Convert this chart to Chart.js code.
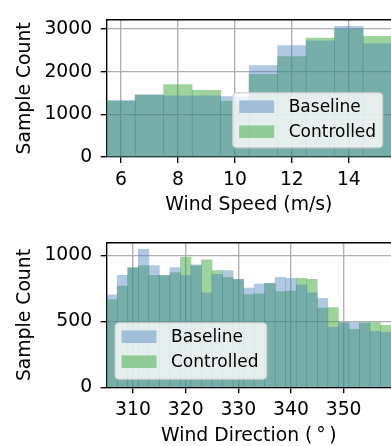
<!DOCTYPE html>
<html>
<head>
<meta charset="utf-8">
<script src="https://cdn.jsdelivr.net/npm/chart.js@4.4.0/dist/chart.umd.min.js"></script>
<style>
  html, body { margin: 0; padding: 0; background: #fff; overflow: hidden; }
  .panel { position: absolute; left: 0; width: 391px; }
  #speed-panel { top: 0; height: 223px; }
  #dir-panel { top: 223px; height: 225px; }
</style>
</head>
<body>
<div class="panel" id="speed-panel"><canvas id="speedChart" width="391" height="223"></canvas></div>
<div class="panel" id="dir-panel"><canvas id="dirChart" width="391" height="225"></canvas></div>
<script>
// Wind speed histogram (bin centres, 1 m/s wide)
const speedBins = [6, 7, 8, 9, 10, 11, 12, 13, 14, 15];
const speedBaseline = [1330, 1455, 1436, 1436, 1414, 2143, 2614, 2721, 3064, 2657];
const speedControlled = [1307, 1450, 1700, 1564, 1310, 1936, 2357, 2786, 2993, 2829];
const speedTicks = [6, 8, 10, 12, 14];
const speedCountTicks = [0, 1000, 2000, 3000];

// Wind direction histogram (bin centres, 2 deg wide)
const dirBins = [306, 308, 310, 312, 314, 316, 318, 320, 322, 324, 326, 328, 330, 332,
  334, 336, 338, 340, 342, 344, 346, 348, 350, 352, 354, 356, 358];
const dirBaseline = [702, 849, 905, 1048, 923, 850, 908, 849, 930, 717, 857, 886, 820, 754,
  783, 790, 835, 827, 778, 717, 675, 455, 492, 492, 490, 425, 418];
const dirControlled = [665, 768, 908, 923, 849, 848, 871, 989, 922, 967, 886, 835, 818, 703,
  710, 788, 726, 731, 827, 820, 601, 606, 490, 440, 490, 491, 470];
const dirTicks = [310, 320, 330, 340, 350];
const dirCountTicks = [0, 500, 1000];

const seriesNames = ['Baseline', 'Controlled'];
const baselineColor = 'rgba(70, 125, 185, 0.42)';
const controlledColor = 'rgba(44, 160, 44, 0.46)';

Chart.defaults.font.family = '"DejaVu Sans"';
Chart.defaults.font.size = 18.8;
Chart.defaults.color = '#000';

// Top spine + matplotlib style legend drawn inside the axes
const frameAndLegend = {
  id: 'frameAndLegend',
  afterDraw(chart, args, opts) {
    const { ctx, chartArea } = chart;
    ctx.save();
    ctx.strokeStyle = '#000';
    ctx.lineWidth = 1.36;
    ctx.beginPath();
    ctx.moveTo(chartArea.left - 0.68, chartArea.top);
    ctx.lineTo(chartArea.right, chartArea.top);
    ctx.stroke();

    const b = opts.box;
    ctx.fillStyle = 'rgba(255, 255, 255, 0.8)';
    ctx.strokeStyle = 'rgba(204, 204, 204, 0.8)';
    ctx.lineWidth = 1.36;
    ctx.beginPath();
    ctx.roundRect(b.x, b.y, b.w, b.h, 4);
    ctx.fill();
    ctx.stroke();

    ctx.font = '17px "DejaVu Sans"';
    ctx.textBaseline = 'middle';
    ctx.textAlign = 'left';
    chart.data.datasets.forEach((ds, i) => {
      const cy = b.y + 14 + i * 25;
      ctx.fillStyle = ds.backgroundColor;
      ctx.fillRect(b.x + 6.5, cy - 6.3, 35, 12.6);
      ctx.fillStyle = '#000';
      ctx.fillText(ds.label, b.x + 56, cy + 1);
    });
    ctx.restore();
  }
};

function makeHist(canvasId, cfg) {
  const ctx = document.getElementById(canvasId).getContext('2d');
  return new Chart(ctx, {
    type: 'bar',
    data: {
      datasets: [
        {
          label: seriesNames[0],
          data: cfg.bins.map((x, i) => ({ x: x, y: cfg.baseline[i] })),
          backgroundColor: baselineColor,
          borderWidth: 0,
          grouped: false,
          barPercentage: 1,
          categoryPercentage: 1
        },
        {
          label: seriesNames[1],
          data: cfg.bins.map((x, i) => ({ x: x, y: cfg.controlled[i] })),
          backgroundColor: controlledColor,
          borderWidth: 0,
          grouped: false,
          barPercentage: 1,
          categoryPercentage: 1
        }
      ]
    },
    options: {
      responsive: false,
      animation: false,
      layout: { padding: { top: cfg.padTop, left: 0, right: 0, bottom: 0 } },
      plugins: {
        legend: { display: false },
        tooltip: { enabled: false },
        frameAndLegend: { box: cfg.legendBox }
      },
      scales: {
        x: {
          type: 'linear',
          offset: false,
          min: cfg.xMin,
          max: cfg.xMax,
          z: 1,
          afterBuildTicks: (scale) => { scale.ticks = cfg.xTicks.map(v => ({ value: v })); },
          afterFit: (scale) => { scale.height = cfg.xAxisHeight; },
          grid: { offset: false, color: '#b0b0b0', lineWidth: 1.36, tickLength: 6, tickColor: '#000', tickWidth: 1.36 },
          border: { display: true, color: '#000', width: 1.36 },
          ticks: { padding: 5.4, maxRotation: 0, autoSkip: false, callback: (v) => String(v) },
          title: { display: true, text: cfg.xTitle, padding: { top: 0, bottom: cfg.xTitlePad } }
        },
        y: {
          min: 0,
          max: cfg.yMax,
          z: 1,
          afterBuildTicks: (scale) => { scale.ticks = cfg.yTicks.map(v => ({ value: v })); },
          afterFit: (scale) => { scale.width = 106.7; },
          grid: { color: '#b0b0b0', lineWidth: 1.36, tickLength: 6, tickColor: '#000', tickWidth: 1.36 },
          border: { display: true, color: '#000', width: 1.36 },
          ticks: { padding: 8.5, callback: (v) => String(v) },
          title: { display: true, text: 'Sample Count', padding: { top: 14.3, bottom: 0 } }
        }
      }
    },
    plugins: [frameAndLegend]
  });
}

makeHist('speedChart', {
  bins: speedBins,
  baseline: speedBaseline,
  controlled: speedControlled,
  xMin: 5.5,
  xMax: 15.48,
  yMax: 3217,
  xTicks: speedTicks,
  yTicks: speedCountTicks,
  xTitle: 'Wind Speed (m/s)',
  padTop: 7,
  xAxisHeight: 66,
  xTitlePad: 6.7,
  legendBox: { x: 232.7, y: 92.7, w: 150, h: 55 }
});

makeHist('dirChart', {
  bins: dirBins,
  baseline: dirBaseline,
  controlled: dirControlled,
  xMin: 305,
  xMax: 359,
  yMax: 1097,
  xTicks: dirTicks,
  yTicks: dirCountTicks,
  xTitle: 'Wind Direction (\u2009\u00b0\u2009)',
  padTop: 15.3,
  xAxisHeight: 60.7,
  xTitlePad: 0.9,
  legendBox: { x: 115, y: 99.7, w: 151.7, h: 56.6 }
});
</script>
</body>
</html>
